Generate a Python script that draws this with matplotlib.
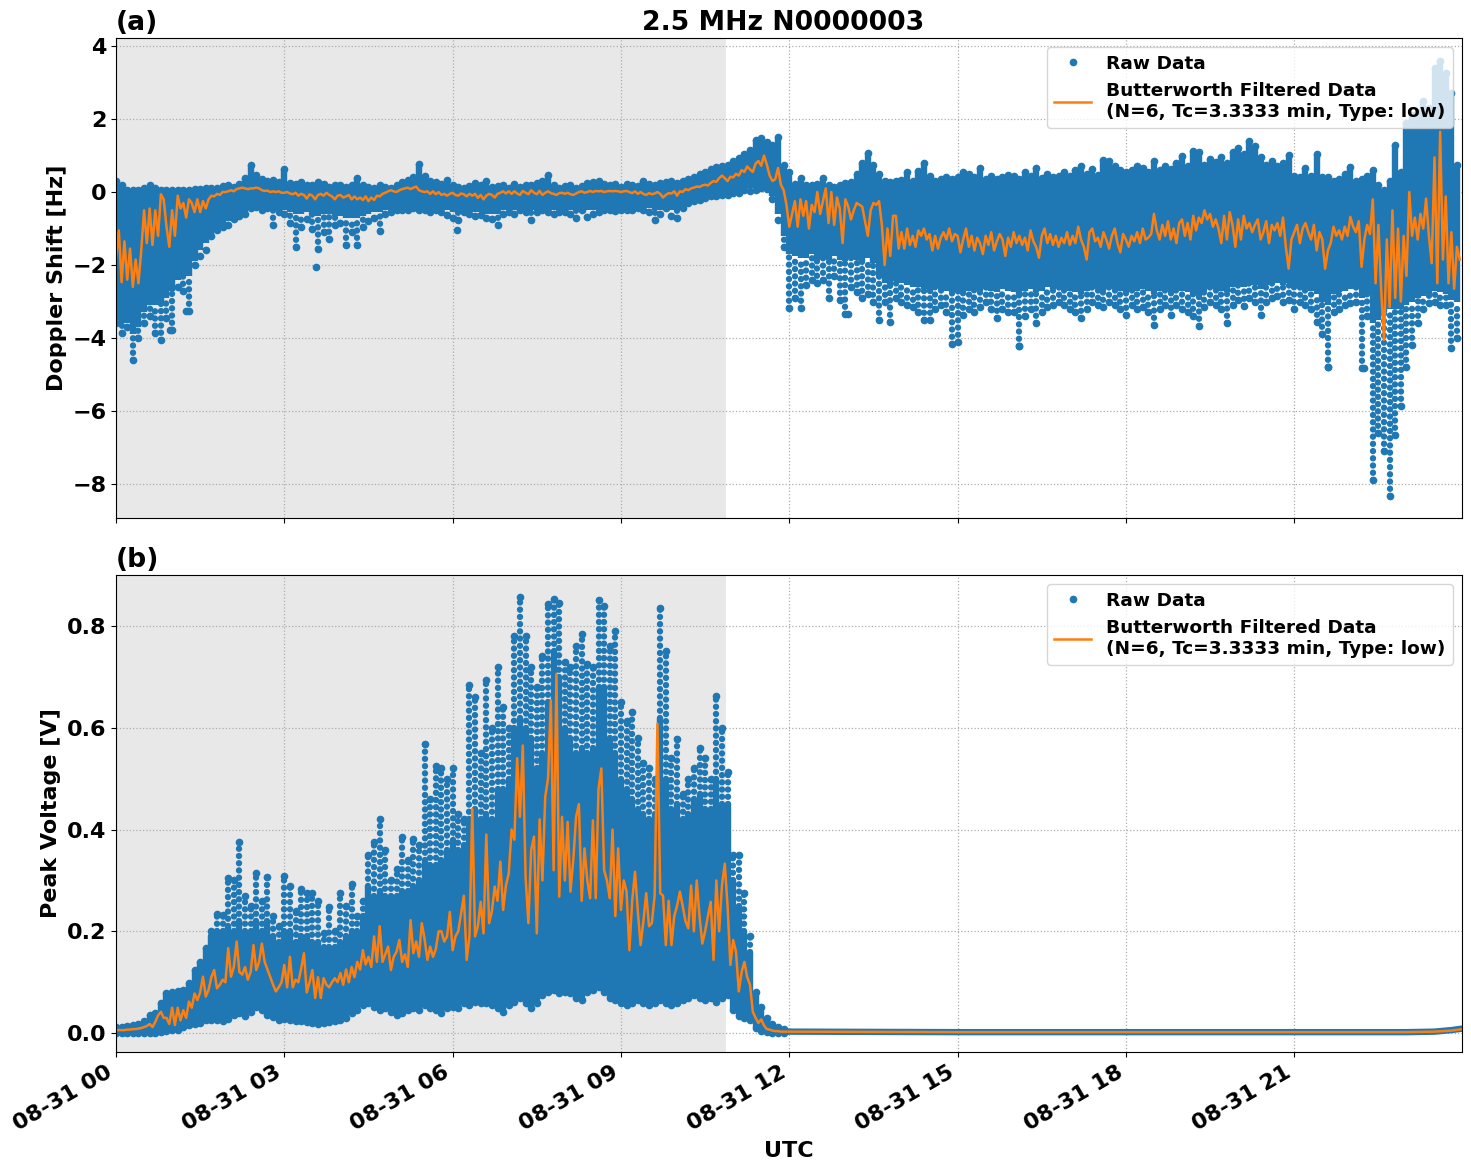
import numpy as np
import matplotlib.pyplot as plt
import matplotlib.dates as mdates

plt.rcParams['font.weight'] = 'bold'
plt.rcParams['axes.labelweight'] = 'bold'
plt.rcParams['axes.titleweight'] = 'bold'
plt.rcParams['font.size'] = 16

# Spread of the raw samples, one column per 0.1 h
doppler_high = [
    .30, .20, .05, .05, .06, .10, .18, .10, .06, .06,
    .06, .05, .06, .06, .07, .08, .10, .10, .12, .16,
    .18, .15, .22, .38, .75, .48, .36, .30, .32, .28,
    .62, .25, .22, .28, .20, .18, .28, .22, .15, .20,
    .18, .15, .20, .38, .18, .15, .12, .18, .14, .10,
    .20, .28, .32, .42, .78, .45, .30, .28, .22, .32,
    .18, .15, .12, .16, .26, .18, .30, .14, .16, .18,
    .12, .22, .15, .18, .20, .26, .30, .48, .18, .12,
    .16, .18, .12, .16, .26, .28, .30, .22, .18, .22,
    .15, .22, .18, .16, .30, .22, .18, .25, .28, .30,
    .25, .30, .35, .42, .50, .55, .62, .68, .72, .74,
    .85, .92, 1.05, 1.15, 1.42, 1.47, 1.38, 1.30, 1.52, .75,
    .55, .22, .38, .18, .20, .22, .38, .18, .15, .18,
    .25, .28, .50, .80, 1.07, .75, .50, .30, .28, .30,
    .32, .55, .30, .58, .80, .45, .30, .35, .40, .35,
    .42, .54, .50, .40, .65, .35, .45, .35, .40, .48,
    .45, .35, .55, .45, .65, .38, .50, .40, .45, .55,
    .45, .60, .70, .50, .62, .48, .88, .84, .72, .60,
    .55, .60, .72, .65, .55, .85, .60, .72, .62, .80,
    1.00, .70, 1.12, 1.10, .75, .90, .82, .95, .80, 1.10,
    1.20, 1.05, 1.39, 1.25, .95, .75, .85, .70, .80, 1.02,
    .45, .40, .65, .45, 1.04, .42, .40, .30, .35, .50,
    .68, .30, .35, .45, .60, .20, .05, .30, 1.30, .55,
    1.90, 2.10, 2.20, 2.50, 2.30, 3.40, 3.60, 3.25, 2.70, .75,
]
doppler_low = [
    -3.6, -3.86, -3.7, -4.6, -4.0, -3.6, -3.4, -3.85, -4.05, -3.45,
    -3.78, -2.6, -2.7, -3.27, -2.0, -1.75, -1.6, -1.2, -1.05, -.95,
    -.9, -.75, -.65, -.6, -.45, -.4, -.5, -.45, -.9, -.55,
    -.6, -.85, -1.5, -.95, -.75, -1.0, -1.55, -1.1, -1.3, -.9,
    -.85, -1.45, -1.1, -1.45, -.95, -.8, -.7, -1.08, -.6, -.55,
    -.5, -.5, -.48, -.45, -.5, -.5, -.55, -.5, -.55, -.62,
    -.7, -.76, -.55, -.6, -.65, -.62, -.7, -.75, -.9, -.6,
    -.55, -.6, -.5, -.55, -.76, -.55, -.5, -.55, -.6, -.55,
    -.55, -.6, -.7, -.5, -.68, -.6, -.55, -.5, -.48, -.52,
    -.5, -.5, -.48, -.45, -.5, -.55, -.76, -.6, -.45, -.65,
    -.7, -.45, -.3, -.25, -.22, -.15, -.12, -.1, -.08, -.07,
    -.02, -.02, .05, .02, .05, .1, .08, -.2, -.76, -1.5,
    -3.18, -2.9, -3.18, -2.55, -2.4, -2.5, -2.4, -2.9, -2.3, -2.95,
    -3.33, -2.6, -2.75, -2.9, -2.8, -3.0, -3.5, -3.0, -3.55, -2.9,
    -3.0, -3.1, -3.15, -3.3, -3.5, -3.5, -3.2, -3.1, -3.3, -4.15,
    -4.1, -3.36, -3.2, -3.3, -3.15, -3.0, -3.2, -3.45, -3.2, -3.3,
    -3.3, -4.23, -3.4, -3.2, -3.6, -3.3, -3.15, -3.1, -3.0, -3.1,
    -3.2, -3.3, -3.45, -3.2, -3.0, -3.1, -3.15, -3.0, -3.1, -3.2,
    -3.36, -3.1, -3.2, -3.15, -3.3, -3.63, -3.2, -3.1, -3.36, -3.1,
    -3.2, -3.3, -3.4, -3.68, -3.15, -3.0, -3.1, -3.2, -3.6, -3.1,
    -2.95, -3.13, -2.9, -3.0, -3.36, -3.0, -2.9, -2.85, -3.0, -2.95,
    -3.2, -3.0, -3.1, -3.2, -3.55, -3.9, -4.78, -3.3, -3.2, -3.1,
    -3.04, -3.0, -4.82, -3.4, -7.88, -6.6, -7.1, -8.34, -6.65, -5.87,
    -4.8, -4.2, -3.6, -3.2, -3.04, -3.0, -3.1, -3.1, -4.27, -4.0,
]
# Solid part of the cloud; below it the samples thin out to single dots
doppler_solid_low = [
    -3.5, -3.6, -3.6, -3.9, -3.7, -3.3, -3.1, -3.1, -3.0, -2.9,
    -2.7, -2.4, -2.3, -2.3, -1.9, -1.6, -1.4, -1.15, -1.0, -.9,
    -.8, -.7, -.6, -.55, -.45, -.4, -.45, -.42, -.5, -.5,
    -.5, -.55, -.6, -.6, -.55, -.6, -.65, -.6, -.6, -.65,
    -.65, -.7, -.7, -.7, -.65, -.6, -.55, -.55, -.5, -.5,
    -.45, -.45, -.45, -.42, -.45, -.45, -.5, -.45, -.5, -.5,
    -.55, -.55, -.5, -.55, -.55, -.55, -.6, -.6, -.6, -.5,
    -.5, -.5, -.45, -.5, -.5, -.5, -.45, -.5, -.5, -.5,
    -.5, -.5, -.5, -.45, -.5, -.5, -.5, -.45, -.45, -.48,
    -.45, -.45, -.45, -.42, -.45, -.45, -.5, -.5, -.42, -.5,
    -.5, -.4, -.28, -.22, -.2, -.14, -.1, -.08, -.06, -.05,
    0, 0, .08, .1, .1, .12, .1, -.1, -.6, -1.2,
    -1.7, -1.75, -1.8, -1.8, -1.7, -1.85, -1.8, -1.85, -1.75, -1.85,
    -1.9, -1.8, -1.85, -1.9, -1.8, -1.95, -2.3, -2.5, -2.55, -2.45,
    -2.5, -2.55, -2.6, -2.6, -2.65, -2.7, -2.6, -2.65, -2.7, -2.75,
    -2.7, -2.75, -2.7, -2.65, -2.7, -2.6, -2.7, -2.75, -2.65, -2.7,
    -2.75, -2.8, -2.7, -2.65, -2.75, -2.7, -2.6, -2.65, -2.6, -2.65,
    -2.7, -2.75, -2.8, -2.7, -2.6, -2.65, -2.7, -2.6, -2.65, -2.7,
    -2.75, -2.65, -2.7, -2.65, -2.7, -2.8, -2.7, -2.65, -2.75, -2.65,
    -2.7, -2.75, -2.8, -2.85, -2.7, -2.6, -2.65, -2.7, -2.75, -2.6,
    -2.55, -2.6, -2.5, -2.55, -2.65, -2.55, -2.5, -2.5, -2.55, -2.5,
    -2.6, -2.6, -2.65, -2.7, -2.8, -3.0, -3.1, -2.8, -2.75, -2.7,
    -2.65, -2.6, -2.9, -2.8, -3.6, -3.5, -3.3, -3.2, -3.2, -3.2,
    -3.1, -3.0, -2.9, -2.85, -2.8, -2.7, -2.75, -2.8, -2.95, -3.0,
]
doppler_stray_hours = [3.57, 6.08, 0.96, 1.25, 13.05, 16.1, 21.6, 22.25]
doppler_stray_values = [-2.05, -1.05, -3.77, -3.27, -3.33, -4.23, -4.78, -4.82]

voltage_high = [
    .012, .012, .014, .016, .018, .023, .035, .04, .06, .078,
    .08, .082, .085, .098, .125, .14, .167, .2, .235, .232,
    .304, .3, .376, .27, .25, .314, .26, .307, .23, .21,
    .308, .289, .24, .284, .275, .275, .26, .196, .248, .2,
    .275, .25, .293, .23, .26, .35, .375, .42, .36, .3,
    .323, .385, .34, .382, .37, .568, .46, .524, .52, .5,
    .52, .43, .42, .683, .66, .55, .693, .6, .72, .64,
    .6, .78, .856, .78, .72, .68, .74, .843, .853, .845,
    .73, .72, .76, .784, .725, .72, .85, .84, .76, .79,
    .65, .614, .63, .58, .53, .52, .5, .836, .75, .54,
    .578, .47, .5, .52, .56, .54, .5, .663, .6, .513,
    .35, .35, .275, .19, .08, .052, .03, .018, .012, .009,
]
# Solid part of the cloud; above it only single dots remain
voltage_solid_high = [
    .012, .012, .014, .016, .018, .023, .035, .04, .06, .078,
    .08, .082, .085, .098, .125, .14, .167, .19, .2, .2,
    .21, .2, .22, .2, .2, .22, .2, .22, .19, .18,
    .2, .2, .18, .19, .19, .18, .18, .17, .17, .17,
    .18, .19, .2, .2, .23, .29, .27, .28, .27, .27,
    .27, .28, .28, .29, .3, .34, .33, .33, .34, .36,
    .38, .36, .37, .42, .44, .42, .43, .42, .48, .48,
    .5, .6, .62, .6, .58, .52, .55, .65, .75, .7,
    .6, .58, .55, .56, .55, .56, .68, .68, .58, .55,
    .5, .48, .46, .44, .43, .42, .43, .62, .5, .44,
    .45, .42, .43, .46, .47, .44, .44, .5, .45, .45,
    .3, .25, .2, .16, .08, .052, .03, .018, .012, .009,
]
voltage_low = [
    0, 0, 0, 0, 0, 0, 0, 0, .002, .004,
    .006, .007, .012, .016, .018, .02, .025, .026, .025, .023,
    .028, .035, .04, .033, .042, .052, .045, .036, .032, .026,
    .028, .025, .024, .023, .022, .02, .018, .02, .022, .023,
    .026, .03, .04, .045, .055, .059, .052, .046, .05, .042,
    .036, .04, .045, .05, .046, .055, .05, .045, .04, .05,
    .052, .049, .06, .055, .062, .059, .06, .055, .05, .042,
    .055, .062, .07, .06, .049, .06, .075, .08, .085, .078,
    .08, .078, .07, .065, .08, .085, .09, .08, .069, .065,
    .06, .056, .06, .065, .06, .056, .06, .065, .06, .056,
    .06, .065, .07, .075, .07, .065, .07, .062, .07, .075,
    .046, .033, .03, .026, .01, .004, .002, .001, 0, 0,
]
# After midday the raw samples stay in one thin band
voltage_tail_hours = [12, 15, 18, 21, 23, 23.5, 23.8, 24]
voltage_tail_values = [.003, .002, .002, .002, .002, .003, .006, .009]

# Low-pass filtered traces, one value per 0.05 h
doppler_filtered = [
    -1.8, -1.05, -2.47, -1.35, -2.4, -1.55, -2.6, -1.85, -2.5, -1.6, -.5, -1.4, -.45, -1.45, -.5, -1.2, -.06, -.2, -.95, -1.5,
    -.5, -1.2, -.1, -.45, -.3, -.7, -.2, -.3, -.55, -.2, -.55, -.25, -.45, -.2, -.1, -.12, -.05, -.08, 0, 0,
    .02, .05, .02, .08, .1, .12, .1, .08, .1, .1, .12, .1, .05, .03, .04, 0, .02, 0, .02, -.02,
    -.02, 0, -.04, -.06, -.02, -.1, -.05, -.08, -.18, -.06, -.1, -.2, -.08, -.05, -.1, -.02, -.08, -.12, -.2, -.1,
    -.08, -.15, -.12, -.08, -.2, -.12, -.2, -.15, -.22, -.12, -.25, -.15, -.22, -.1, -.12, -.05, -.02, .02, .05, .02,
    0, .05, .08, .1, .12, .08, .12, .15, .05, .02, 0, .02, -.05, .02, -.06, 0, -.08, -.05, -.1, -.05,
    -.02, -.08, -.1, -.04, -.06, -.12, -.05, -.1, -.05, -.16, -.08, -.2, -.1, -.05, -.08, -.15, -.05, -.02, .02, -.04,
    .02, -.05, .02, -.04, -.08, .03, -.02, -.06, .05, -.02, -.06, .03, -.08, -.02, .02, -.03, -.05, -.08, -.03, -.02,
    -.05, -.02, -.06, -.08, -.04, 0, .02, -.02, 0, .03, 0, .03, .02, .03, 0, .02, .03, .02, .03, .02,
    0, .02, .03, 0, -.03, .02, -.05, 0, -.05, -.08, -.03, -.06, -.04, 0, -.05, -.15, -.08, -.03, -.04, .02,
    -.1, .02, 0, .08, .05, .1, .12, .15, .14, .18, .2, .18, .25, .3, .28, .38, .45, .38, .3, .42,
    .4, .5, .45, .6, .55, .7, .62, .55, .78, .85, .72, 1.0, .75, .45, .3, .35, .66, .2, .05, -.35,
    -.95, -.6, -.25, -.95, -.2, -.65, -.25, -1.0, -.35, -.55, 0, -.6, -.25, .1, -.85, 0, -.9, -.15, -.45, -1.4,
    -.2, -.4, -.75, -.5, -.3, -.35, -.4, -.8, -1.2, -.5, -.3, -.35, -.25, -.9, -2.0, -1.0, -1.75, -.65, -.65, -1.55,
    -1.1, -1.55, -1.0, -1.45, -1.2, -1.5, -1.05, -1.2, -1.0, -1.3, -1.15, -1.6, -1.2, -1.55, -1.25, -1.1, -1.3, -1.0, -1.35, -1.15,
    -1.2, -1.65, -1.3, -1.0, -1.5, -1.2, -1.6, -1.25, -1.4, -1.7, -1.2, -1.45, -1.1, -1.6, -1.35, -1.15, -1.3, -1.75, -1.25, -1.5,
    -1.1, -1.4, -1.2, -1.45, -1.25, -1.6, -1.05, -1.35, -1.5, -1.8, -1.2, -1.0, -1.4, -1.15, -1.45, -1.2, -1.5, -1.25, -1.4, -1.1,
    -1.45, -1.2, -1.4, -.95, -1.3, -1.5, -1.85, -1.1, -1.0, -1.35, -1.25, -1.5, -1.1, -1.3, -1.55, -1.2, -1.0, -1.4, -1.65, -1.15,
    -1.3, -1.5, -1.2, -1.35, -1.1, -1.4, -1.0, -1.3, -1.25, -1.15, -.6, -1.05, -1.3, -.9, -1.2, -.8, -1.3, -1.0, -1.4, -.85,
    -.75, -1.2, -.85, -1.3, -.65, -1.05, -.7, -.85, -.5, -.75, -.6, -.95, -.75, -1.0, -1.4, -.65, -1.3, -.55, -.9, -1.5,
    -.75, -1.3, -.65, -1.0, -.85, -1.1, -.9, -.75, -1.3, -1.1, -.8, -1.4, -.9, -1.05, -.85, -1.2, -.7, -1.5, -2.1, -1.3,
    -1.1, -.9, -1.4, -1.0, -.85, -1.1, -1.3, -.9, -1.6, -1.1, -1.3, -2.1, -1.6, -1.4, -.95, -1.2, -1.05, -1.3, -.95, -1.2,
    -.68, -.95, -1.1, -.8, -2.05, -1.3, -.9, -1.15, -.2, -2.5, -.9, -2.7, -4.05, -1.3, -3.15, -.5, -2.9, -1.0, -3.0, -1.2,
    -2.3, 0, -1.2, -.7, -1.3, -.6, -1.0, -.18, -1.2, -1.95, .95, -2.5, 1.65, -1.85, -.12, -2.5, -1.1, -2.65, -1.5, -1.85,
]
voltage_filtered = [
    .006, .006, .006, .006, .007, .007, .008, .008, .009, .01, .012, .014, .018, .012, .022, .035, .042, .03, .03, .018,
    .05, .016, .05, .025, .045, .03, .062, .05, .078, .065, .08, .111, .072, .085, .11, .124, .088, .095, .105, .1,
    .167, .111, .13, .18, .12, .115, .13, .105, .12, .173, .124, .14, .176, .14, .125, .11, .095, .082, .09, .1,
    .134, .09, .15, .09, .105, .1, .127, .157, .08, .1, .124, .069, .11, .069, .108, .095, .09, .1, .108, .1,
    .118, .095, .125, .1, .13, .11, .14, .125, .163, .135, .15, .13, .19, .14, .21, .14, .155, .17, .124, .15,
    .16, .183, .14, .155, .13, .222, .157, .18, .15, .216, .185, .144, .17, .15, .165, .2, .2, .18, .19, .238,
    .163, .19, .2, .235, .27, .144, .19, .44, .19, .21, .258, .196, .39, .216, .24, .288, .26, .337, .242, .29,
    .314, .4, .38, .54, .425, .565, .307, .216, .36, .386, .196, .42, .3, .464, .5, .654, .32, .706, .268, .425,
    .3, .415, .278, .34, .425, .45, .26, .363, .3, .265, .418, .265, .48, .52, .32, .3, .265, .4, .23, .363,
    .242, .3, .278, .163, .26, .317, .24, .173, .22, .275, .21, .216, .27, .608, .275, .27, .173, .26, .173, .23,
    .25, .278, .25, .22, .206, .29, .2, .3, .23, .176, .2, .23, .258, .144, .3, .2, .29, .333, .25, .134,
    .183, .16, .082, .12, .14, .11, .095, .042, .03, .02, .027, .015, .008, .007, .005, .004, .004, .003, .003, .003,
]
voltage_filtered_tail_hours = [12, 15, 18, 21, 23, 23.5, 23.8, 24]
voltage_filtered_tail = [.003, .002, .002, .002, .002, .003, .005, .008]

day = np.datetime64('2021-08-31T00:00:00')
night_end = 10.87


def to_time(hours):
    return day + (np.asarray(hours, dtype=float) * 3600).astype('timedelta64[s]')


def raw_cloud(ax, hours, low, solid_low, solid_high, high):
    # solid columns for the dense part, round-dotted columns for the sparse tails
    t = to_time(hours)
    ax.vlines(t, solid_low, solid_high, color=blue, lw=4.6)
    dotted = (0, (0.01, 1.12))
    ax.vlines(t, low, solid_low, color=blue, lw=4.6, linestyles=[dotted], capstyle='round')
    ax.vlines(t, solid_high, high, color=blue, lw=4.6, linestyles=[dotted], capstyle='round')
    ax.plot(t, high, '.', color=blue, ms=9, label='Raw Data')
    ax.plot(t, low, '.', color=blue, ms=9)


raw_hours = np.arange(len(doppler_high)) * 0.1
filt_hours = np.arange(len(doppler_filtered)) * 0.05
v_raw_hours = np.arange(len(voltage_high)) * 0.1
v_filt_hours = np.arange(len(voltage_filtered)) * 0.05

blue = '#1f77b4'
orange = '#ff7f0e'
legend_text = 'Butterworth Filtered Data\n(N=6, Tc=3.3333 min, Type: low)'

W, H = 1471, 1172
fig = plt.figure(figsize=(W / 100, H / 100), dpi=100)
ax0 = fig.add_axes([116 / W, 1 - 518 / H, 1346 / W, 480 / H])
ax1 = fig.add_axes([116 / W, 1 - 1052 / H, 1346 / W, 477 / H], sharex=ax0)

# top panel: Doppler shift
raw_cloud(ax0, raw_hours, doppler_low, doppler_solid_low, doppler_high, doppler_high)
ax0.plot(to_time(doppler_stray_hours), doppler_stray_values, '.', color=blue, ms=9)
ax0.plot(to_time(filt_hours), doppler_filtered, color=orange, lw=1.8, label=legend_text)
ax0.set_ylim(-8.93, 4.22)
ax0.set_ylabel('Doppler Shift [Hz]')
ax0.set_title('2.5 MHz N0000003', fontsize=19.2, pad=6, x=0.496)
ax0.set_title('(a)', loc='left', fontsize=19.2, pad=6)
ax0.tick_params(labelbottom=False)

# bottom panel: peak voltage
raw_cloud(ax1, v_raw_hours, voltage_low, voltage_low, voltage_solid_high, voltage_high)
ax1.plot(to_time(voltage_tail_hours), voltage_tail_values, color=blue, lw=4.6)
ax1.plot(to_time(v_filt_hours), voltage_filtered, color=orange, lw=1.8, label=legend_text)
ax1.plot(to_time(voltage_filtered_tail_hours), voltage_filtered_tail, color=orange, lw=1.8)
ax1.set_ylim(-0.037, 0.90)
ax1.set_ylabel('Peak Voltage [V]')
ax1.set_xlabel('UTC', labelpad=5)
ax1.set_title('(b)', loc='left', fontsize=19.2, pad=6)

for ax in (ax0, ax1):
    ax.axvspan(to_time(0), to_time(night_end), color='0.5', alpha=0.18, lw=0, zorder=0)
    ax.set_xlim(to_time(0), to_time(23.99))
    ax.xaxis.set_major_locator(mdates.HourLocator(interval=3))
    ax.xaxis.set_major_formatter(mdates.DateFormatter('%m-%d %H'))
    ax.grid(True, ls=':', color='0.68', lw=0.9)
    ax.set_axisbelow(True)
    ax.legend(loc='upper right', fontsize=13.3, handlelength=2)

plt.setp(ax1.get_xticklabels(), rotation=30, ha='right')

plt.savefig('out.png', dpi=100)
